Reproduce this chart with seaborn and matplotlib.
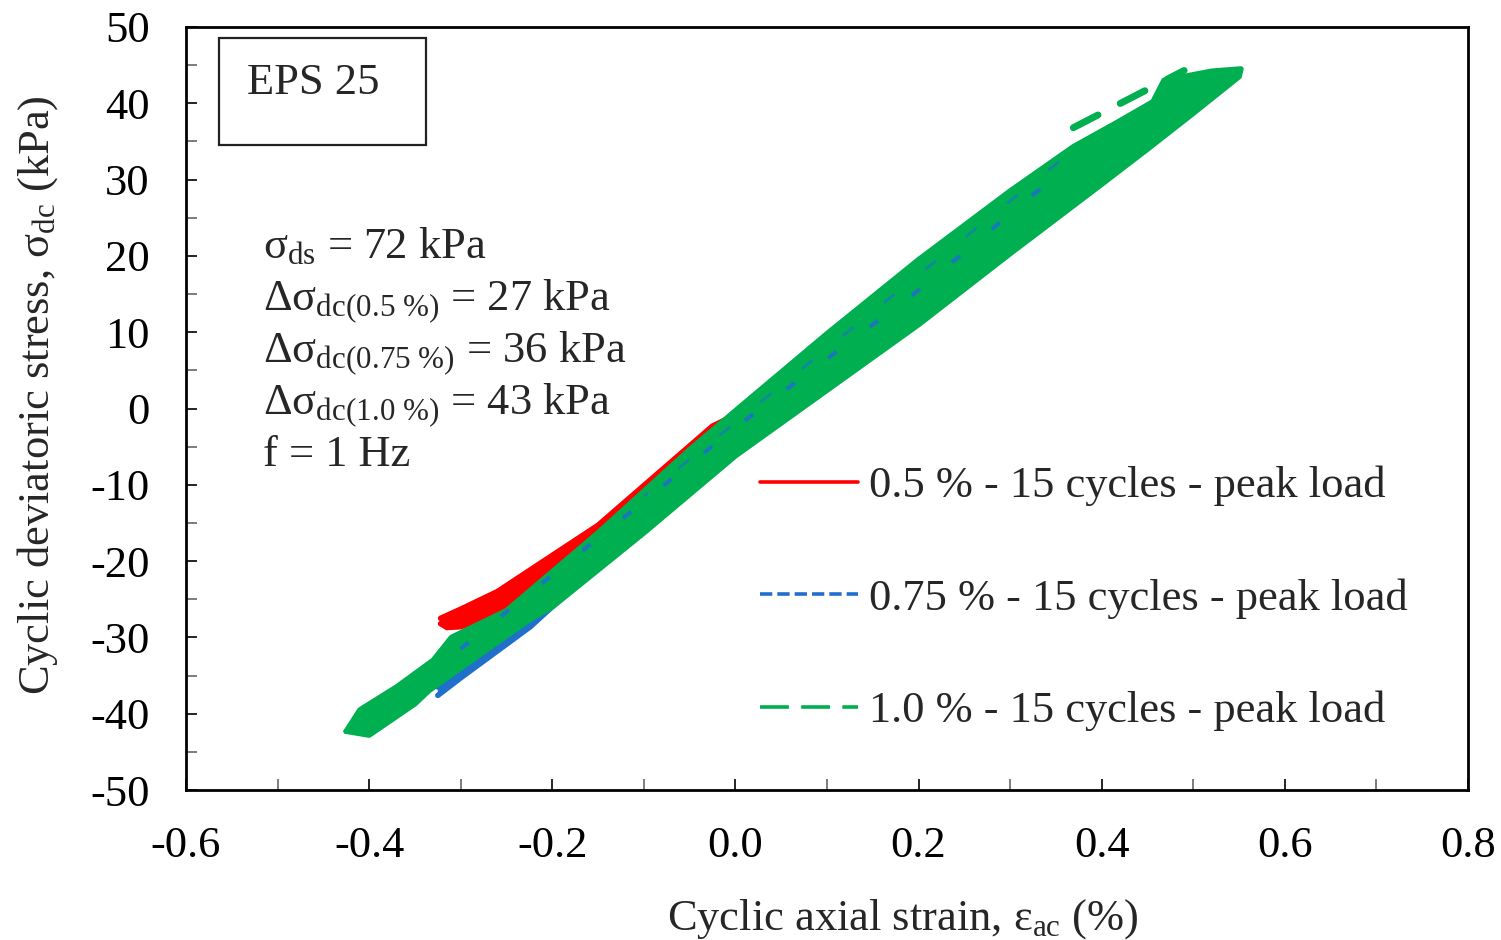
import matplotlib
matplotlib.use("Agg")
import matplotlib.pyplot as plt
import seaborn as sns
from matplotlib.lines import Line2D
from matplotlib.patches import Rectangle
from matplotlib.ticker import MultipleLocator

# ---------------- data ----------------
# Each series: outline of the band formed by 15 overlapping hysteresis loops.
# Upper (unloading) branch from lower tip to upper tip, then lower (loading) branch back.
red_strain = [-0.322, -0.30, -0.26, -0.15, -0.025, 0.10, 0.25,
              0.25, 0.10, -0.10, -0.20, -0.26, -0.30, -0.315, -0.322]
red_stress = [-27.5, -26.3, -24.0, -15.3, -2.3, 5.0, 20.0,
              19.0, 4.0, -13.0, -22.5, -27.0, -28.6, -28.7, -28.2]

blue_strain = [-0.325, -0.20, 0.00, 0.20, 0.36,
               0.35, 0.20, 0.00, -0.15, -0.224, -0.30, -0.325]
blue_stress = [-36.5, -24.0, -3.0, 16.0, 33.4,
               31.0, 14.0, -4.0, -20.5, -28.6, -35.3, -37.6]

green_strain = [-0.425, -0.41, -0.37, -0.33, -0.31, -0.25, -0.15, -0.05, 0.00, 0.10,
                0.20, 0.30, 0.369, 0.417, 0.456, 0.468, 0.52, 0.552,
                0.55, 0.50, 0.45, 0.40, 0.30, 0.20, 0.10, 0.00, -0.10, -0.20,
                -0.224, -0.32, -0.335, -0.35, -0.40, -0.425]
green_stress = [-42.3, -39.5, -36.5, -33.0, -30.0, -26.5, -16.3, -5.4, -0.3, 9.8,
                19.5, 28.5, 34.3, 37.5, 40.2, 43.0, 44.2, 44.5,
                43.5, 38.7, 34.0, 29.4, 20.3, 11.0, 2.4, -6.2, -16.3, -26.0,
                -27.6, -35.7, -37.0, -38.7, -42.8, -42.3]

# detached dashes of the first 1.0 % unloading cycle near the peak
green_top_strain = [0.369, 0.49]
green_top_stress = [36.8, 44.3]

# blue dashes seen through the green band (mid track and upper track)
blue_inner_strain = [-0.30, 0.00, 0.20, 0.36]
blue_inner_stress = [-31.5, -2.5, 15.5, 31.5]
blue_edge_strain = [-0.10, 0.36]
blue_edge_stress = [-11.5, 33.0]

series_labels = ["0.5 % - 15 cycles - peak load",
                 "0.75 % - 15 cycles - peak load",
                 "1.0 % - 15 cycles - peak load"]
annotations = [r"σ$_{\mathrm{ds}}$ = 72 kPa",
               r"Δσ$_{\mathrm{dc(0.5\ \%)}}$ = 27 kPa",
               r"Δσ$_{\mathrm{dc(0.75\ \%)}}$ = 36 kPa",
               r"Δσ$_{\mathrm{dc(1.0\ \%)}}$ = 43 kPa",
               "f = 1 Hz"]
box_label = "EPS 25"
x_ticks = [-0.6, -0.4, -0.2, 0.0, 0.2, 0.4, 0.6, 0.8]
y_ticks = [-50, -40, -30, -20, -10, 0, 10, 20, 30, 40, 50]

# ---------------- styling ----------------
sns.set_theme(style="white")
plt.rcParams["font.family"] = ["Liberation Serif", "DejaVu Serif"]
plt.rcParams["mathtext.fontset"] = "custom"
plt.rcParams["mathtext.rm"] = "Liberation Serif"
plt.rcParams["mathtext.it"] = "Liberation Serif:italic"
plt.rcParams["mathtext.bf"] = "Liberation Serif:bold"

RED = "#FF0000"
BLUE = "#1F6FCB"
GREEN = "#00B050"
FS = 32

fig = plt.figure(figsize=(15.01, 9.40), dpi=100)
ax = fig.add_axes([186 / 1501, 1 - 790 / 940, (1468 - 186) / 1501, (790 - 27) / 940])

# red band
ax.fill(red_strain, red_stress, color=RED, lw=0, zorder=2)
sns.lineplot(x=red_strain, y=red_stress, sort=False, estimator=None, color=RED,
             lw=4, ax=ax, zorder=2)
# blue band
ax.fill(blue_strain, blue_stress, color=BLUE, lw=0, zorder=3)
sns.lineplot(x=blue_strain, y=blue_stress, sort=False, estimator=None, color=BLUE,
             lw=4, ax=ax, zorder=3)
# green band
ax.fill(green_strain, green_stress, color=GREEN, lw=0, zorder=4)
sns.lineplot(x=green_strain, y=green_stress, sort=False, estimator=None, color=GREEN,
             lw=4, ax=ax, zorder=4)
sns.lineplot(x=green_top_strain, y=green_top_stress, sort=False, estimator=None,
             color=GREEN, lw=5, ax=ax, zorder=4, linestyle=(0, (4.0, 3.6)),
             dash_capstyle="round")
sns.lineplot(x=blue_inner_strain, y=blue_inner_stress, sort=False, estimator=None,
             color=BLUE, lw=3, ax=ax, zorder=5, linestyle=(0, (2.5, 10)), alpha=0.85)
sns.lineplot(x=blue_edge_strain, y=blue_edge_stress, sort=False, estimator=None,
             color=BLUE, lw=2, ax=ax, zorder=5, linestyle=(3, (5, 14)), alpha=0.6)

ax.set_xlim(-0.6, 0.8)
ax.set_ylim(-50, 50)
ax.set_xticks(x_ticks)
ax.set_yticks(y_ticks)
ax.set_xticklabels([f"{v:.1f}" for v in x_ticks])
ax.set_yticklabels([f"{v:d}" for v in y_ticks])
ax.xaxis.set_minor_locator(MultipleLocator(0.1))
ax.yaxis.set_minor_locator(MultipleLocator(5))
ax.tick_params(which="both", direction="in", length=8, width=1.2, colors="black",
               bottom=True, left=True, top=False, right=False)
ax.tick_params(which="minor", color="#666666")
ax.tick_params(axis="both", which="major", labelsize=FS, pad=26)
for s in ax.spines.values():
    s.set_visible(True)
    s.set_color("black")
    s.set_linewidth(2.0)

ax.set_xlabel(r"Cyclic axial strain, ε$_{\mathrm{ac}}$ (%)", fontsize=FS)
ax.xaxis.set_label_coords((903 - 186) / 1282, -0.140)
ax.set_ylabel(r"Cyclic deviatoric stress, σ$_{\mathrm{dc}}$ (kPa)", fontsize=FS)
ax.yaxis.set_label_coords(-0.098, 0.518)

# EPS box
ax.add_patch(Rectangle((0.0257, 0.8453), 0.1615, 0.1403, transform=ax.transAxes,
                       fill=False, edgecolor="#222222", lw=1.6, zorder=6))
ax.text(0.0476, 0.927, box_label, transform=ax.transAxes, fontsize=32,
        va="center", ha="left", zorder=7)

# parameters text
for i, t in enumerate(annotations):
    ax.text(0.060, 0.697 - i * 0.0682, t, transform=ax.transAxes, fontsize=FS,
            va="baseline", ha="left", zorder=7)

handles = [Line2D([], [], color=RED, lw=2.6),
           Line2D([], [], color=BLUE, lw=2.6, linestyle=(0, (3.4, 1.4))),
           Line2D([], [], color=GREEN, lw=2.6, linestyle=(0, (8, 3.4)))]
ax.legend(handles, series_labels, loc="upper left", bbox_to_anchor=(0.448, 0.425),
          frameon=False, fontsize=FS, handlelength=2.2, handletextpad=0.25,
          labelspacing=1.62, borderpad=0, borderaxespad=0)

fig.savefig("out.png", dpi=100)
